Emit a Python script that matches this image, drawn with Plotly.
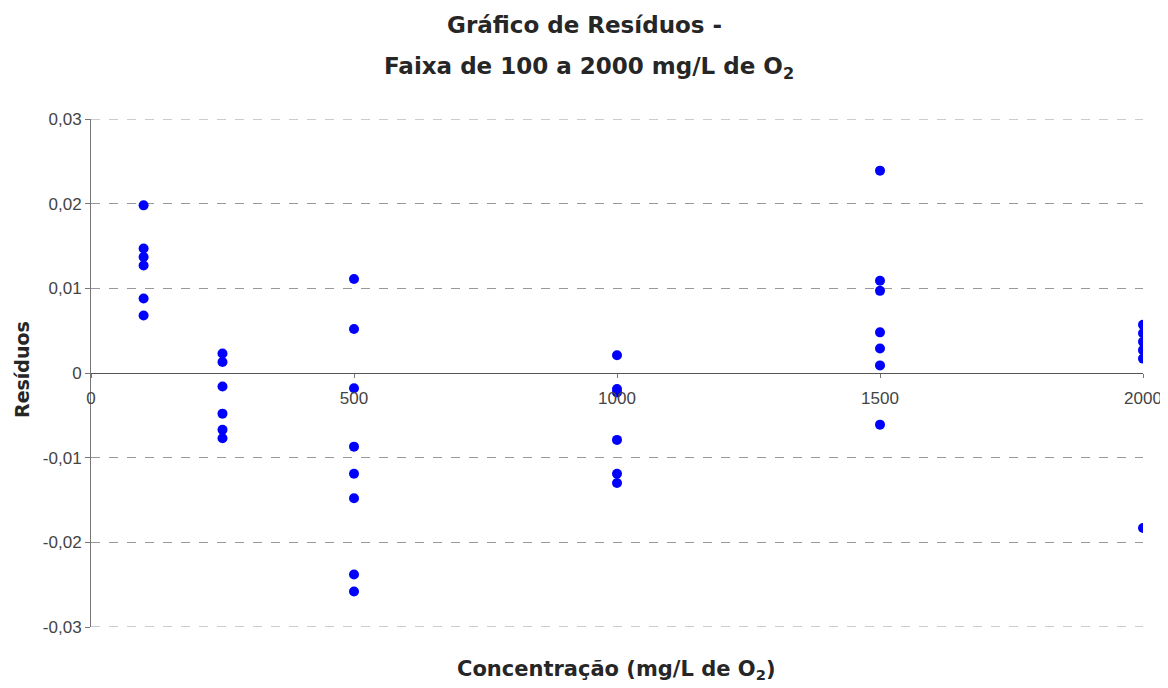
import plotly.graph_objects as go

# Concentração (mg/L O2) e resíduos
conc = ([100] * 6 + [250] * 6 + [500] * 8 + [1000] * 6 + [1500] * 7 + [2000] * 6)
resid = [
    0.0198, 0.0147, 0.0137, 0.0127, 0.0088, 0.0068,
    0.0023, 0.0013, -0.0016, -0.0048, -0.0067, -0.0077,
    0.0111, 0.0052, -0.0018, -0.0087, -0.0119, -0.0148, -0.0238, -0.0258,
    0.0021, -0.0019, -0.0023, -0.0079, -0.0119, -0.0130,
    0.0239, 0.0109, 0.0097, 0.0048, 0.0029, 0.0009, -0.0061,
    0.0057, 0.0047, 0.0037, 0.0027, 0.0017, -0.0183,
]

y_ticks = [-0.03, -0.02, -0.01, 0, 0.01, 0.02, 0.03]
y_labels = ['-0,03', '-0,02', '-0,01', '0', '0,01', '0,02', '0,03']
x_ticks = [0, 500, 1000, 1500, 2000]

TITLE_FONT = 'DejaVu Sans, Verdana, sans-serif'
TICK_FONT = 'Arial, Liberation Sans, sans-serif'
TXT = '#262626'

# o body da página tem 8px de margem → figura 8px menor
W, H = 1160, 680
ML, MR, MT, MB = 83, 25, 111, 61
PW, PH = W - ML - MR, H - MT - MB


def _px(x, y):
    """pixel da página → coordenada 'paper'."""
    return (x - 8 - ML) / PW, 1 - (y - 8 - MT) / PH


fig = go.Figure()
fig.add_trace(go.Scatter(
    x=conc, y=resid, mode='markers',
    marker=dict(color='#0000FF', size=10, line=dict(width=0)),
    showlegend=False, hoverinfo='x+y',
))

_annots = []
for txt, (px, py), size, ang in [
    ('Gráfico de Resíduos -', (584, 25), 23, 0),
    ('Faixa de 100 a 2000 mg/L de O<sub>2</sub>', (589, 68), 23, 0),
    ('Concentração (mg/L de O<sub>2</sub>)', (616, 670), 21, 0),
    ('Resíduos', (22, 370), 19, -90),
]:
    ax, ay = _px(px, py)
    _annots.append(dict(
        text=txt, xref='paper', yref='paper', x=ax, y=ay,
        xanchor='center', yanchor='middle', showarrow=False, textangle=ang,
        font=dict(family=TITLE_FONT, size=size, color=TXT, weight='bold'),
    ))

# linhas tracejadas nos extremos (plotly não desenha grade na borda)
_shapes = [dict(type='line', xref='paper', yref='y', x0=0, x1=1, y0=v, y1=v,
                line=dict(color='#999999', width=1, dash='dash'), layer='below')
           for v in (y_ticks[0], y_ticks[-1])]

fig.update_layout(
    width=W, height=H,
    margin=dict(l=ML, r=MR, t=MT, b=MB),
    paper_bgcolor='white', plot_bgcolor='white',
    annotations=_annots, shapes=_shapes,
)

fig.update_xaxes(
    range=[0, 2000], anchor='free', position=0.5, automargin=False,
    tickvals=x_ticks, ticks='outside', ticklen=4, tickcolor='#777777',
    ticklabelstandoff=6,
    showline=True, linecolor='#555555', linewidth=1,
    showgrid=False, zeroline=False,
    tickfont=dict(family=TICK_FONT, size=17, color='#444444'),
)
fig.update_yaxes(
    range=[-0.03, 0.03], automargin=False,
    tickvals=y_ticks, ticktext=y_labels,
    ticks='outside', ticklen=5, tickcolor='#777777',
    showline=True, linecolor='#777777', linewidth=1,
    showgrid=True, gridcolor='#999999', griddash='dash', gridwidth=1,
    zeroline=False,
    tickfont=dict(family=TICK_FONT, size=17, color='#444444'),
)

fig.write_html('out.html')
